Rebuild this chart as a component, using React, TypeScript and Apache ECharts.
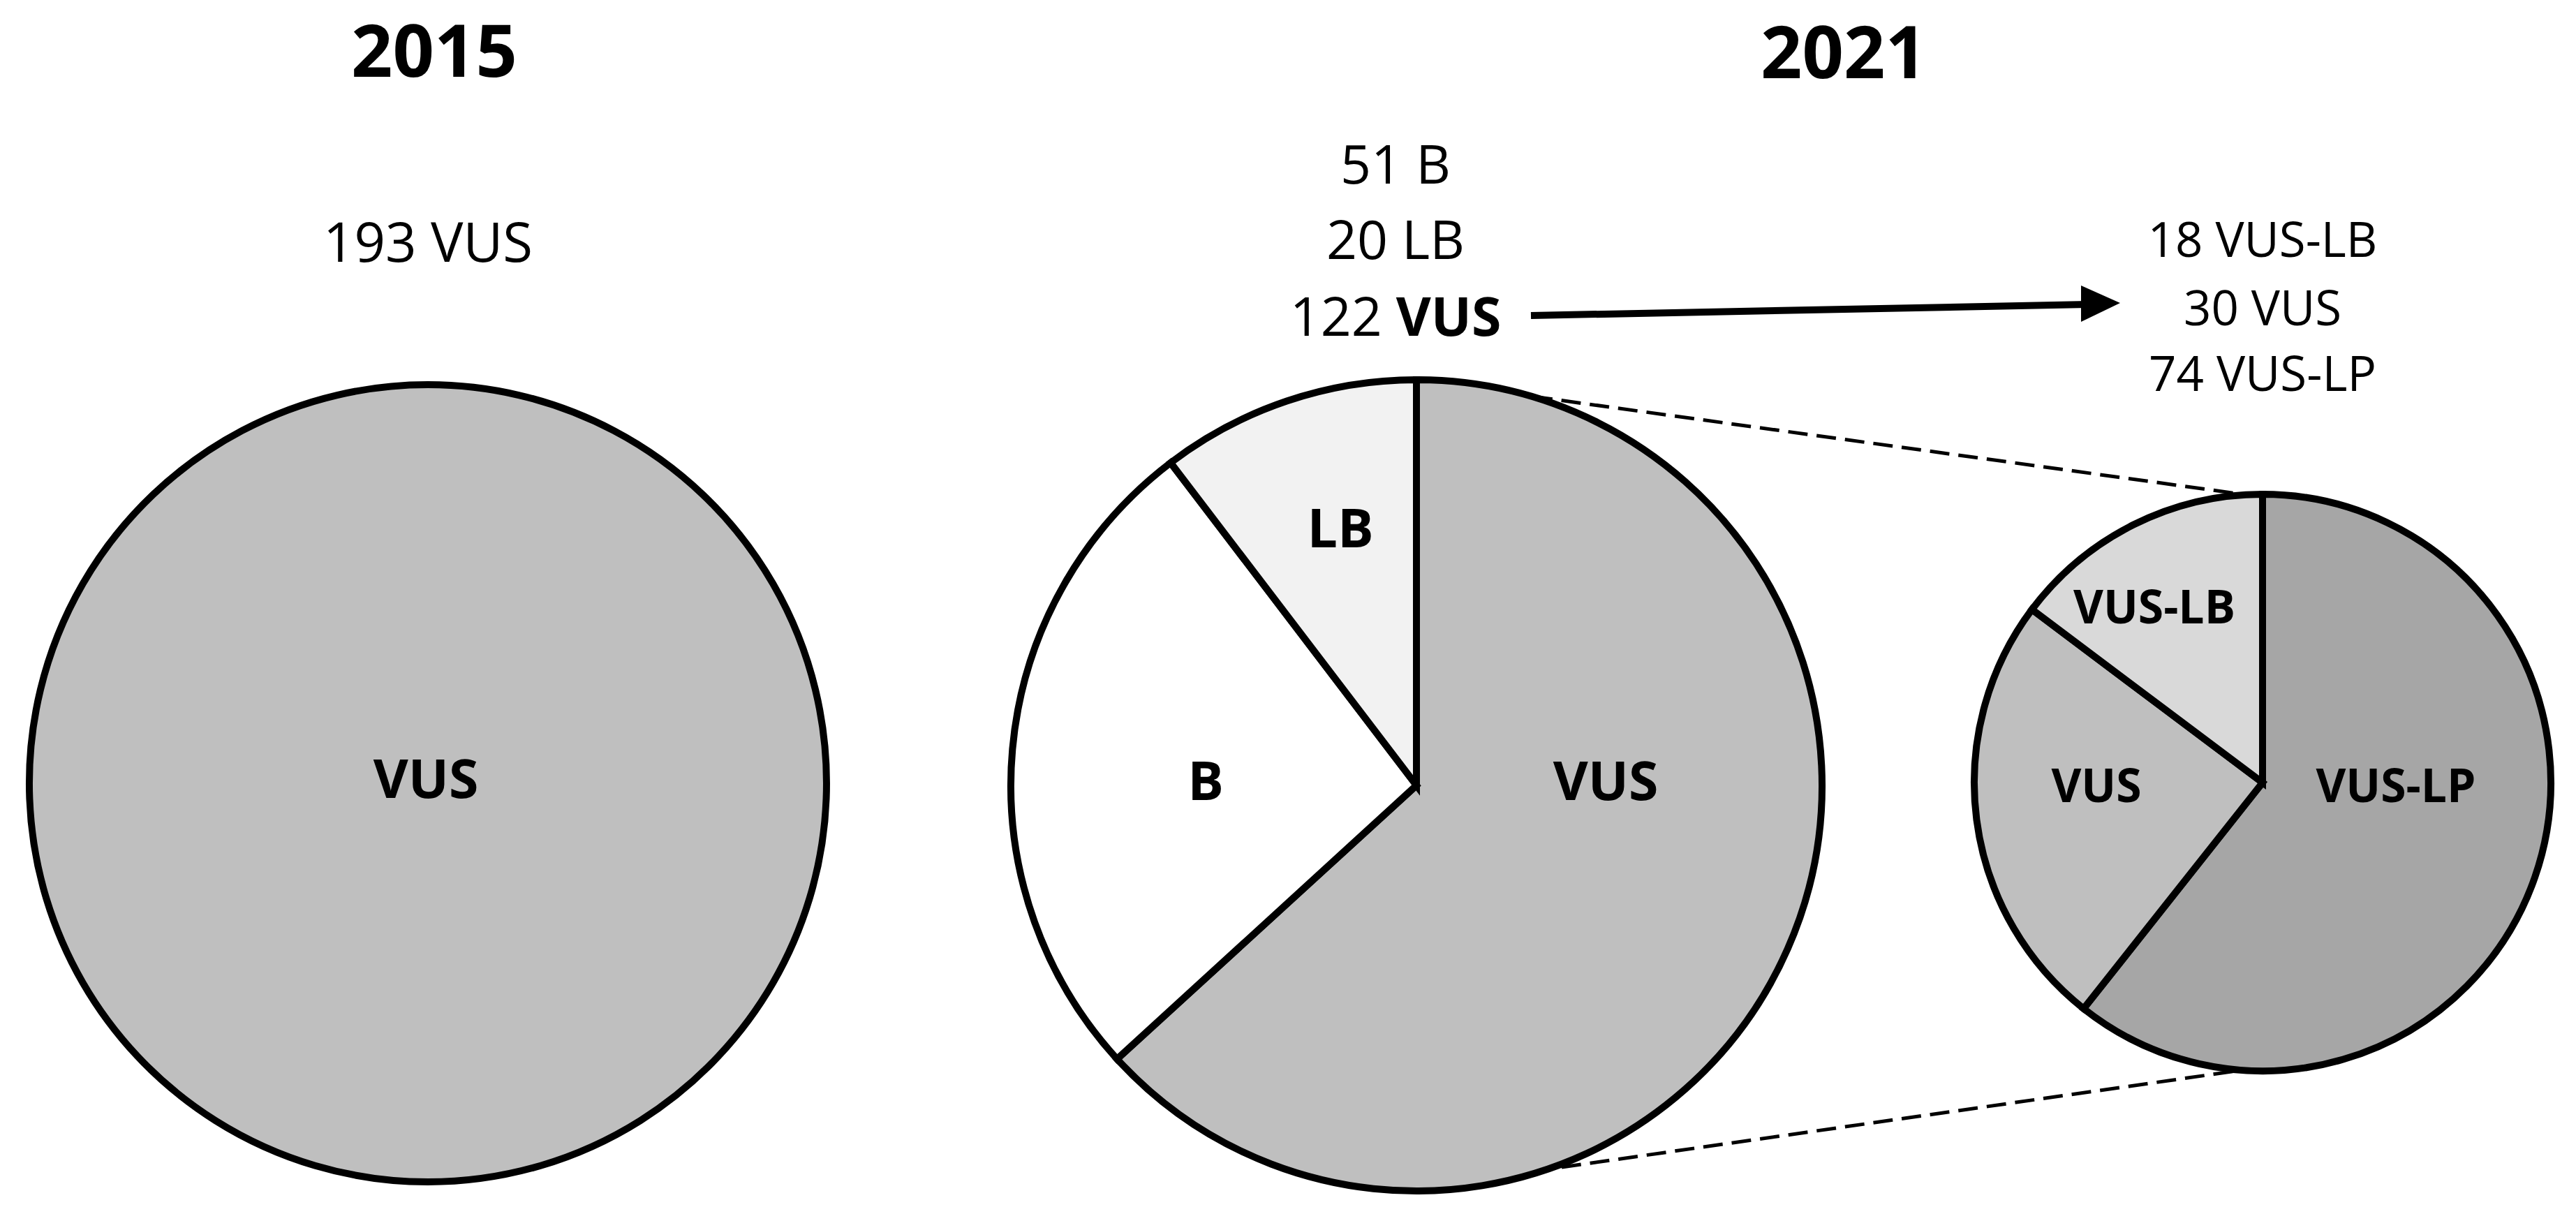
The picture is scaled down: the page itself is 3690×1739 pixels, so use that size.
import React, { useEffect, useRef } from "react";
import * as echarts from "echarts";

// ---------- data ----------
const categories2015 = ["VUS"];
const values2015 = [193];

const categories2021 = ["VUS", "B", "LB"];
const values2021 = [122, 51, 20];

const categoriesVusSplit = ["VUS-LP", "VUS", "VUS-LB"];
const valuesVusSplit = [74, 30, 18];

const titles = ["2015", "2021"];

// order in which the counts are listed above each pie
const listOrder2021 = [1, 2, 0];
const listOrderVusSplit = [2, 1, 0];

// ---------- styles / layout ----------
const W = 3690;
const H = 1739;
const FONT = '"Open Sans", "Noto Sans", sans-serif';

const colors2015 = ["#bfbfbf"];
const colors2021 = ["#bfbfbf", "#ffffff", "#f2f2f2"];
const colorsVusSplit = ["#a6a6a6", "#bfbfbf", "#d9d9d9"];

const pie2015 = { cx: 613, cy: 1122, r: 571 };
const pie2021 = { cx: 2029, cy: 1125, r: 581 };
const pieVus = { cx: 3241, cy: 1121, r: 413 };

const labelOffsets2015 = [[-3, -9]];
const labelOffsets2021 = [[271, -9], [-302, -9], [-109, -371]];
const labelOffsetsVus = [[191, 2], [-238, 2], [-155, -254]];

function makePie(
  names: string[],
  values: number[],
  colors: string[],
  geo: { cx: number; cy: number; r: number },
  offsets: number[][],
  labelSize: number
) {
  return {
    type: "pie",
    center: [geo.cx, geo.cy],
    radius: geo.r,
    startAngle: 90,
    clockwise: true,
    silent: true,
    avoidLabelOverlap: false,
    emphasis: { disabled: true },
    labelLine: { show: false },
    label: {
      show: true,
      position: "inside",
      formatter: "{b}",
      color: "#000",
      fontFamily: FONT,
      fontWeight: "bold",
      fontSize: labelSize,
      lineHeight: labelSize,
    },
    labelLayout: (p: any) => {
      const o = offsets[p.dataIndex] || [0, 0];
      return { x: geo.cx + o[0], y: geo.cy + o[1] };
    },
    itemStyle: { borderColor: "#000", borderWidth: 10, borderJoin: "miter" },
    data: names.map((n, i) => ({
      name: n,
      value: values[i],
      itemStyle: { color: colors[i] },
    })),
  };
}

function txt(x: number, y: number, text: string, size: number, bold = false, rich?: any) {
  return {
    type: "text",
    x,
    y,
    silent: true,
    style: {
      text,
      fill: "#000",
      fontFamily: FONT,
      fontSize: size,
      lineHeight: size,
      fontWeight: bold ? "bold" : "normal",
      align: "center",
      verticalAlign: "middle",
      textAlign: "center",
      textVerticalAlign: "middle",
      rich,
    },
  };
}

export default function App() {
  const ref = useRef<HTMLDivElement>(null);

  useEffect(() => {
    document.body.style.margin = "0";
    document.body.style.overflow = "hidden";
    if (!ref.current) return;
    const chart = echarts.init(ref.current, null, { renderer: "svg" });

    const graphics: any[] = [];
    // titles
    graphics.push(txt(622, 69, titles[0], 104, true));
    graphics.push(txt(2641, 71, titles[1], 104, true));

    // 2015 count
    graphics.push(txt(613, 345, `${values2015[0]} ${categories2015[0]}`, 78));

    // 2021 counts
    const midYs = [233, 341, 451];
    listOrder2021.forEach((idx, k) => {
      const name = categories2021[idx];
      if (name === "VUS") {
        graphics.push(
          txt(1999, midYs[k], `${values2021[idx]} {b|${name}}`, 77, false, {
            b: { fontFamily: FONT, fontSize: 77, lineHeight: 77, fontWeight: "bold", fill: "#000" },
          })
        );
      } else {
        graphics.push(txt(1999, midYs[k], `${values2021[idx]} ${name}`, 77));
      }
    });

    // VUS split counts
    const rightYs = [341, 439, 533];
    listOrderVusSplit.forEach((idx, k) => {
      graphics.push(txt(3241, rightYs[k], `${valuesVusSplit[idx]} ${categoriesVusSplit[idx]}`, 69));
    });

    // arrow
    graphics.push({
      type: "line",
      silent: true,
      shape: { x1: 2193, y1: 452, x2: 2990, y2: 436 },
      style: { stroke: "#000", lineWidth: 10 },
    });
    graphics.push({
      type: "polygon",
      silent: true,
      shape: { points: [[2981, 409], [3037, 434], [2981, 461]] },
      style: { fill: "#000" },
    });

    // dashed connector lines
    graphics.push({
      type: "line",
      silent: true,
      shape: { x1: 2196, y1: 568, x2: 3205, y2: 707 },
      style: { stroke: "#000", lineWidth: 5, lineDash: [28, 13] },
    });
    graphics.push({
      type: "line",
      silent: true,
      shape: { x1: 2237, y1: 1672, x2: 3211, y2: 1533 },
      style: { stroke: "#000", lineWidth: 5, lineDash: [28, 13] },
    });

    chart.setOption({
      animation: false,
      backgroundColor: "#ffffff",
      series: [
        makePie(categories2015, values2015, colors2015, pie2015, labelOffsets2015, 77),
        makePie(categories2021, values2021, colors2021, pie2021, labelOffsets2021, 77),
        makePie(categoriesVusSplit, valuesVusSplit, colorsVusSplit, pieVus, labelOffsetsVus, 66),
      ],
      graphic: { elements: graphics },
    });

    return () => chart.dispose();
  }, []);

  return <div ref={ref} style={{ width: W, height: H }} />;
}
